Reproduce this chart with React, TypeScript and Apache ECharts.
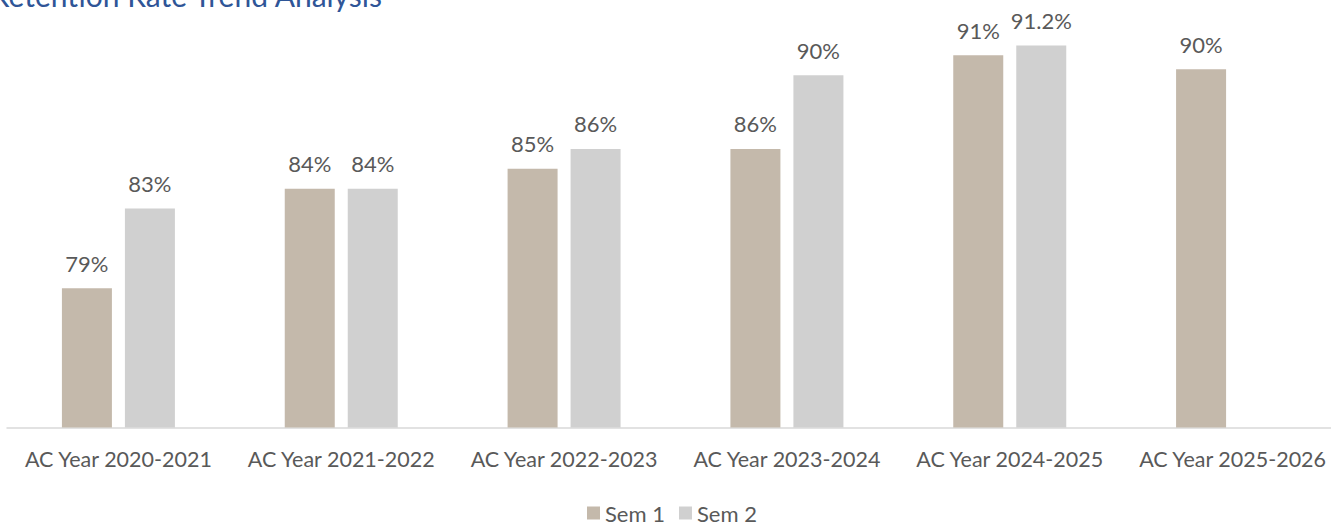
import React, { useEffect, useRef } from "react";
import * as echarts from "echarts";

const categories = [
  "AC Year 2020-2021",
  "AC Year 2021-2022",
  "AC Year 2022-2023",
  "AC Year 2023-2024",
  "AC Year 2024-2025",
  "AC Year 2025-2026",
];
const sem1Values = [79, 84, 85, 86, 90.7, 90];
const sem2Values: (number | null)[] = [83, 84, 86, 89.7, 91.2, null];
const sem1Labels = ["79%", "84%", "85%", "86%", "91%", "90%"];
const sem2Labels = ["83%", "84%", "86%", "90%", "91.2%", ""];
const titleText = "Retention Rate Trend Analysis";

const FONT = "Lato, 'Open Sans', sans-serif";
const TEXT_COLOR = "#595959";

export default function App() {
  const ref = useRef<HTMLDivElement>(null);
  useEffect(() => {
    document.body.style.margin = "0";
    if (!ref.current) return;
    const chart = echarts.init(ref.current, null, { renderer: "svg" });
    chart.setOption({
      animation: false,
      backgroundColor: "#ffffff",
      grid: {
        left: 7,
        top: 29.5,
        width: 1337,
        height: 398,
        outerBoundsMode: "none",
        containLabel: false,
      },
      graphic: [
        {
          type: "text",
          x: 382,
          y: 10,
          style: {
            text: titleText,
            align: "right",
            verticalAlign: "bottom",
            fontSize: 30,
            fontFamily: FONT,
            fill: "#2F5597",
          },
        },
      ],
      legend: {
        data: ["Sem 1", "Sem 2"],
        left: 587,
        top: 502,
        padding: 0,
        itemWidth: 13,
        itemHeight: 13,
        itemGap: 14,
        icon: "rect",
        textStyle: { fontSize: 22, fontFamily: FONT, color: TEXT_COLOR },
      },
      xAxis: {
        type: "category",
        data: categories,
        axisLine: { show: true, lineStyle: { color: "#D9D9D9", width: 1.5 } },
        axisTick: { show: false },
        axisLabel: {
          interval: 0,
          margin: 20,
          fontSize: 21.5,
          fontFamily: FONT,
          color: TEXT_COLOR,
        },
      },
      yAxis: {
        type: "value",
        min: 72,
        max: 92,
        show: false,
        splitLine: { show: false },
      },
      series: [
        {
          name: "Sem 1",
          type: "bar",
          data: sem1Values,
          barWidth: 50,
          barGap: "26%",
          itemStyle: { color: "#C4B9AB" },
          label: {
            show: true,
            position: "top",
            distance: 14,
            fontSize: 22,
            fontFamily: FONT,
            color: TEXT_COLOR,
            formatter: (p: any) => sem1Labels[p.dataIndex],
          },
        },
        {
          name: "Sem 2",
          type: "bar",
          data: sem2Values,
          barWidth: 50,
          barGap: "26%",
          itemStyle: { color: "#D0D0D0" },
          label: {
            show: true,
            position: "top",
            distance: 14,
            fontSize: 22,
            fontFamily: FONT,
            color: TEXT_COLOR,
            formatter: (p: any) => sem2Labels[p.dataIndex],
          },
        },
      ],
    });
    return () => chart.dispose();
  }, []);
  return (
    <div
      ref={ref}
      style={{ position: "fixed", left: 0, top: 0, width: 1331, height: 527 }}
    />
  );
}
